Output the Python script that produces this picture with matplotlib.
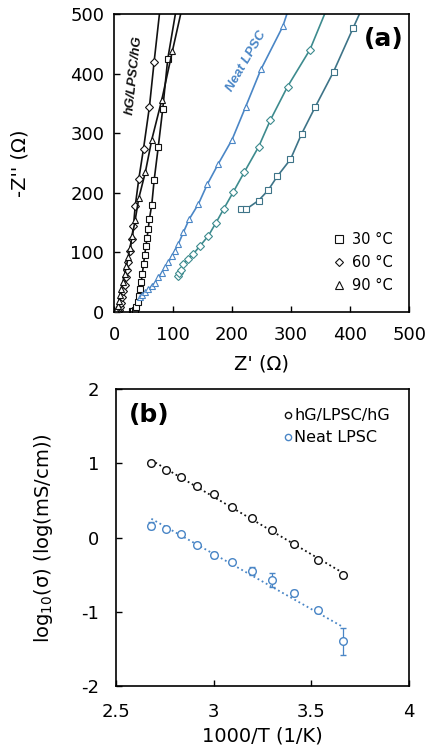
import numpy as np
import matplotlib
matplotlib.use("Agg")
import matplotlib.pyplot as plt
from matplotlib.lines import Line2D

plt.rcParams['font.family'] = ['DejaVu Sans']
plt.rcParams['axes.unicode_minus'] = False
plt.rcParams['mathtext.fontset'] = 'dejavusans'

# ---------------- (a) Nyquist data, ohm ----------------
hg_30_re = [30, 33, 36, 38, 40, 42, 44, 46, 48, 50, 52, 54, 56, 58, 60, 64, 68, 75, 82.5, 91, 104]
hg_30_im = [1, 2, 3, 8, 16, 26, 38, 50, 64, 80, 96, 110, 124, 140, 156, 180, 221, 277, 340, 424, 500]

hg_60_re = [6, 8, 10, 12, 14, 16, 18, 20, 22, 24, 27, 30, 33, 36, 42, 50, 60, 68, 77]
hg_60_im = [1, 3, 8, 15, 25, 35, 46, 58, 70, 84, 102, 122, 145, 178, 223, 274, 344, 420, 500]

hg_90_re = [3, 4, 6, 8, 10, 12, 15, 18, 21, 24, 27, 31, 36, 42, 53, 64, 81, 99, 113]
hg_90_im = [1, 4, 10, 18, 28, 38, 50, 63, 77, 92, 108, 128, 155, 191, 234, 289, 356, 438, 500]

neat_30_re = [216, 224, 245, 261, 277, 299, 318, 341, 372, 405, 416]
neat_30_im = [172, 172.5, 187, 204, 228, 256, 299, 344, 403, 476, 500]

neat_60_re = [108, 110, 113, 117, 126, 134, 146, 160, 173, 186, 202, 221, 245, 265, 294, 332, 357]
neat_60_im = [61, 65, 71, 80, 89, 97, 111, 128, 150, 173, 201, 235, 277, 322, 378, 440, 500]

neat_90_re = [44, 48, 53, 58, 64, 69.5, 75, 81, 86, 92, 98, 103, 109, 117.5, 127.6, 143,
              158, 177, 200, 223, 249, 286, 293]
neat_90_im = [25, 28, 33, 38, 44, 49, 58, 66, 75, 83, 94, 103, 114, 133.5, 156, 181,
              214, 249, 289, 344, 407, 479, 500]

temp_labels = ['30 °C', '60 °C', '90 °C']

# ---------------- (b) Arrhenius data ----------------
temps_C = [100, 90, 80, 70, 60, 50, 40, 30, 20, 10, 0]
log_sigma_hg = [1.00, 0.91, 0.82, 0.69, 0.59, 0.41, 0.26, 0.10, -0.08, -0.30, -0.50]
log_sigma_neat = [0.16, 0.12, 0.05, -0.10, -0.23, -0.33, -0.45, -0.57, -0.75, -0.98, -1.40]
log_sigma_neat_err = [0.05, 0.03, 0.03, 0.03, 0.04, 0.03, 0.05, 0.10, 0.04, 0.03, 0.18]
sample_labels = ['hG/LPSC/hG', 'Neat LPSC']

BLACK = '#111111'
BLUE = '#4a86c6'
TEAL60 = '#3d8b8e'
TEAL30 = '#3e7488'
LABEL_FONT = ['Liberation Sans', 'DejaVu Sans']

fig = plt.figure(figsize=(4.27, 7.53), dpi=100)

# ---------------- panel (a) ----------------
ax1 = fig.add_axes([0.267, 0.5857, 0.691, 0.3958])

series = [
    (hg_30_re, hg_30_im, 's', BLACK),
    (hg_60_re, hg_60_im, 'D', BLACK),
    (hg_90_re, hg_90_im, '^', BLACK),
    (neat_30_re, neat_30_im, 's', TEAL30),
    (neat_60_re, neat_60_im, 'D', TEAL60),
    (neat_90_re, neat_90_im, '^', BLUE),
]
for re, im, mk, col in series:
    ms = 4.2 if mk == 's' else (3.6 if mk == 'D' else 4.2)
    ax1.plot(re, im, color=col, lw=1.2, marker=mk, ms=ms, mfc='white', mec=col,
             mew=0.8, markevery=slice(0, len(re) - 1))

ax1.set_xlim(0, 500)
ax1.set_ylim(0, 500)
ax1.set_xticks(np.arange(0, 501, 100))
ax1.set_yticks(np.arange(0, 501, 100))
ax1.tick_params(direction='in', length=4, width=1, labelsize=13)
ax1.tick_params(axis='y', pad=7)
ax1.tick_params(axis='x', pad=10)
for s in ax1.spines.values():
    s.set_linewidth(1.2)
ax1.set_xlabel("Z' (Ω)", fontsize=14)
ax1.set_ylabel("-Z'' (Ω)", fontsize=14)
ax1.xaxis.set_label_coords(0.5, -0.142)
ax1.yaxis.set_label_coords(-0.285, 0.5)

ax1.text(0.98, 0.955, '(a)', transform=ax1.transAxes, fontsize=18, fontweight='bold',
         ha='right', va='top')
ax1.text(34, 397, 'hG/LPSC/hG', rotation=84, fontsize=9.5, fontweight='bold', style='italic',
         family=LABEL_FONT, color=BLACK, ha='center', va='center')
ax1.text(224, 421, 'Neat LPSC', rotation=60, fontsize=9.5, fontweight='bold', style='italic',
         family=LABEL_FONT, color=BLUE, ha='center', va='center')

handles = [Line2D([], [], ls='none', marker=m, ms=ms, mfc='white', mec=BLACK, mew=0.8)
           for m, ms in zip(['s', 'D', '^'], [6, 4.2, 6])]
ax1.legend(handles, temp_labels, loc='lower right', bbox_to_anchor=(0.99, 0.02),
           frameon=False, fontsize=10.5, handlelength=0.8, handletextpad=0.5,
           labelspacing=0.55)

# ---------------- panel (b) ----------------
ax2 = fig.add_axes([0.2717, 0.089, 0.686, 0.394])
inv_T = 1000.0 / (np.array(temps_C) + 273.0)

for y, col in [(log_sigma_hg, BLACK), (log_sigma_neat, BLUE)]:
    k, b = np.polyfit(inv_T, y, 1)
    xx = np.array([inv_T.min(), inv_T.max()])
    ax2.plot(xx, k * xx + b, ls=(0, (1, 1.6)), color=col, lw=1.3)

ax2.plot(inv_T, log_sigma_hg, ls='none', marker='o', ms=5.5, mfc='white', mec=BLACK,
         mew=1.0)
ax2.errorbar(inv_T, log_sigma_neat, yerr=log_sigma_neat_err, ls='none', marker='o', ms=5.5,
             mfc='white', mec=BLUE, mew=1.0, ecolor=BLUE, elinewidth=0.9, capsize=2.5,
             capthick=0.9)

ax2.set_xlim(2.5, 4)
ax2.set_ylim(-2, 2)
ax2.set_xticks([2.5, 3, 3.5, 4])
ax2.set_xticklabels(['2.5', '3', '3.5', '4'])
ax2.set_yticks([-2, -1, 0, 1, 2])
ax2.tick_params(direction='in', length=4, width=1, labelsize=13, pad=12)
for s in ax2.spines.values():
    s.set_linewidth(1.2)
ax2.set_xlabel('1000/T (1/K)', fontsize=14)
ax2.set_ylabel(r'log$_{10}$(σ) (log(mS/cm))', fontsize=14)
ax2.xaxis.set_label_coords(0.5, -0.135)
ax2.yaxis.set_label_coords(-0.208, 0.5)

ax2.text(0.045, 0.955, '(b)', transform=ax2.transAxes, fontsize=18, fontweight='bold',
         ha='left', va='top')
leg_handles = [Line2D([], [], ls='none', marker='o', ms=4.5, mfc='white', mec=c, mew=1.0)
               for c in (BLACK, BLUE)]
ax2.legend(leg_handles, sample_labels, loc='upper right', bbox_to_anchor=(0.985, 0.985),
           frameon=False, fontsize=11.5, handlelength=0.5, handletextpad=0.15,
           labelspacing=0.45)

fig.savefig('out.png', dpi=100)
